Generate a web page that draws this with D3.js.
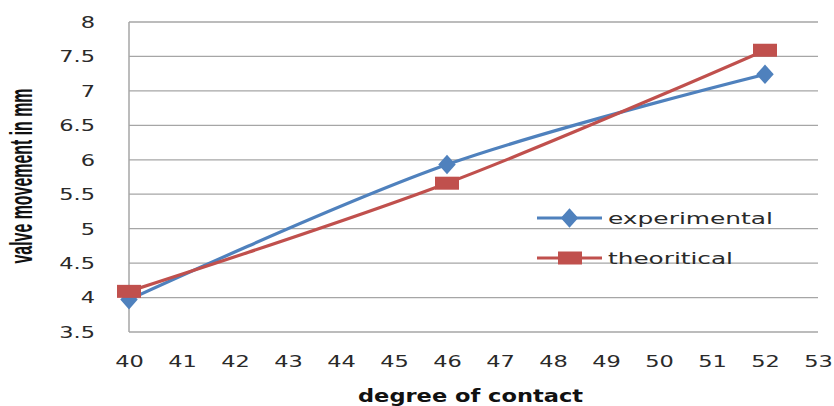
<!DOCTYPE html>
<html><head><meta charset="utf-8">
<script src="https://cdn.jsdelivr.net/npm/d3@7"></script>
<style>body{margin:0;background:#fff}svg{display:block}</style>
</head><body>
<script>
const degrees = [40, 46, 52];
const experimental = [3.97, 5.93, 7.24];
const theoritical = [4.09, 5.66, 7.59];
const seriesNames = ["experimental", "theoritical"];
const xTicks = d3.range(40, 54, 1);
const yTicks = d3.range(3.5, 8.01, 0.5);

const W = 834, H = 406;
const svg = d3.select("body").append("svg").attr("width", W).attr("height", H);
const x = d3.scaleLinear().domain([40, 53]).range([129, 818]);
const y = d3.scaleLinear().domain([3.5, 8]).range([332, 22]);
const font = "'DejaVu Sans', Verdana, sans-serif";
const SX = 1.5;

// gridlines
svg.append("g").selectAll("line").data(yTicks).join("line")
  .attr("x1", x(40)).attr("x2", x(53))
  .attr("y1", d => y(d)).attr("y2", d => y(d))
  .attr("stroke", "#a6a6a6").attr("stroke-width", 1.3);
// y axis line
svg.append("line").attr("x1", x(40)).attr("x2", x(40)).attr("y1", y(8)).attr("y2", y(3.5))
  .attr("stroke", "#a6a6a6").attr("stroke-width", 1.5);

// y tick labels
const yAxis = d3.axisLeft(y).tickValues(yTicks).tickSize(0).tickPadding(0).tickFormat(d3.format(""));
const gy = svg.append("g").attr("transform", "translate(95,0)").call(yAxis);
gy.select(".domain").remove();
gy.selectAll("text").attr("font-family", font).attr("font-size", 15).attr("fill", "#2a2a2a")
  .attr("dy", "0.36em").attr("transform", `scale(${SX},1)`);

// x tick labels
const xAxis = d3.axisBottom(x).tickValues(xTicks).tickSize(0).tickPadding(0).tickFormat(d3.format("d"));
const gx = svg.append("g").attr("transform", "translate(0,367)").call(xAxis);
gx.select(".domain").remove();
gx.selectAll("text").attr("font-family", font).attr("font-size", 15).attr("fill", "#2a2a2a")
  .attr("dy", 0).attr("y", 0).attr("transform", `scale(${SX},1)`);

// titles
svg.append("text").attr("x", 358).attr("y", 402)
  .attr("font-family", font).attr("font-weight", "bold").attr("font-size", 17).attr("fill", "#111")
  .attr("textLength", 225).attr("lengthAdjust", "spacingAndGlyphs")
  .text("degree of contact");
svg.append("text").attr("transform", "translate(32,176) rotate(-90) scale(1,1.4)").attr("text-anchor", "middle")
  .attr("font-family", "'Liberation Sans Narrow','Liberation Sans',Arial,sans-serif").attr("font-weight", "bold")
  .attr("font-size", 23).attr("textLength", 175).attr("lengthAdjust", "spacingAndGlyphs").attr("fill", "#111")
  .text("valve movement in mm");

const colors = {experimental: "#4f81bd", theoritical: "#c0504d"};
const data = {experimental, theoritical};
const line = d3.line().x((d, i) => x(degrees[i])).y(d => y(d)).curve(d3.curveCatmullRom.alpha(0.5));

seriesNames.forEach(name => {
  svg.append("path").attr("d", line(data[name])).attr("fill", "none")
    .attr("stroke", colors[name]).attr("stroke-width", 3.2);
});
const diamond = d3.symbol().type(d3.symbolDiamond).size(110);
svg.append("g").selectAll("path").data(experimental).join("path")
  .attr("d", diamond).attr("transform", (d, i) => `translate(${x(degrees[i])},${y(d)}) scale(1.55,1)`)
  .attr("fill", colors.experimental);
svg.append("g").selectAll("rect").data(theoritical).join("rect")
  .attr("x", (d, i) => x(degrees[i]) - 12).attr("y", d => y(d) - 6.5)
  .attr("width", 24).attr("height", 13).attr("fill", colors.theoritical);

// legend
const legY = [218, 258];
const legLen = [165, 125];
seriesNames.forEach((name, i) => {
  const g = svg.append("g");
  g.append("line").attr("x1", 537).attr("x2", 602).attr("y1", legY[i]).attr("y2", legY[i])
    .attr("stroke", colors[name]).attr("stroke-width", 3);
  if (name === "experimental") {
    g.append("path").attr("d", diamond).attr("transform", `translate(569.5,${legY[i]}) scale(1.55,1)`).attr("fill", colors[name]);
  } else {
    g.append("rect").attr("x", 558).attr("y", legY[i] - 6.5).attr("width", 24).attr("height", 13).attr("fill", colors[name]);
  }
  g.append("text").attr("x", 608).attr("y", legY[i] + 5.5).attr("font-family", font).attr("font-size", 15)
    .attr("textLength", legLen[i]).attr("lengthAdjust", "spacingAndGlyphs")
    .attr("fill", "#2a2a2a").text(name);
});
</script>
</body></html>
